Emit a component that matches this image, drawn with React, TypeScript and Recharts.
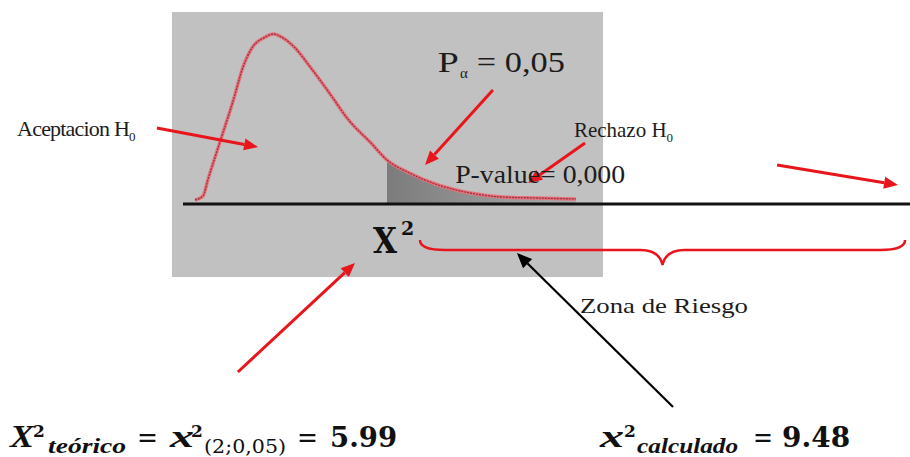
import React from 'react';
import {
  ComposedChart, Line, Area, XAxis, YAxis, ReferenceArea, ReferenceLine, ReferenceDot,
} from 'recharts';

// chi-square curve (x = chi² value, y = density)
const chiX = [0, 0.25, 0.4, 0.8, 1.2, 1.5, 1.8, 2.2, 2.45, 2.7, 3.1, 3.6, 4.2, 4.8, 5.5, 6.0, 6.7, 7.6, 8.6, 9.6, 10.7, 11.9];
const density = [0.004, 0.008, 0.024, 0.064, 0.104, 0.137, 0.157, 0.167, 0.170, 0.167, 0.157, 0.137, 0.111, 0.084, 0.061, 0.044, 0.031, 0.019, 0.011, 0.007, 0.006, 0.005];
const criticalValue = 6.0;

const xDomain = [-6.094, 22.344];
const yDomain = [-0.253, 0.204];

const rows = chiX.map((x, i) => ({
  x,
  y: density[i],
  tail: x >= criticalValue ? density[i] : null,
}));

const RED = '#e8161c';
const serif = '"Liberation Serif", "Times New Roman", serif';
const math = '"DejaVu Serif", serif';
const ink = '#1c1c1c';

const arrowShape = (color: string, width: number, head = 14, half = 6) => (p: any) => {
  const { x1, y1, x2, y2 } = p;
  const len = Math.hypot(x2 - x1, y2 - y1) || 1;
  const ux = (x2 - x1) / len;
  const uy = (y2 - y1) / len;
  const bx = x2 - ux * head;
  const by = y2 - uy * head;
  return (
    <g>
      <line x1={x1} y1={y1} x2={bx} y2={by} stroke={color} strokeWidth={width} />
      <polygon
        points={`${x2},${y2} ${bx - uy * half},${by + ux * half} ${bx + uy * half},${by - ux * half}`}
        fill={color}
      />
    </g>
  );
};

const braceShape = (p: any) => {
  const { x1, y1, x2 } = p;
  const y = y1;
  const mid = (x1 + x2) / 2;
  const d = `M${x1},${y - 10} C${x1},${y - 3} ${x1 + 8},${y} ${x1 + 25},${y} L${mid - 22},${y} C${mid - 8},${y} ${mid - 2},${y + 6} ${mid},${y + 15} C${mid + 2},${y + 6} ${mid + 8},${y} ${mid + 22},${y} L${x2 - 25},${y} C${x2 - 8},${y} ${x2},${y - 3} ${x2},${y - 10}`;
  return <path d={d} fill="none" stroke={RED} strokeWidth={2.5} />;
};

// arrows: [from, to] in chart units
const redArrows = [
  [[-1.19, 0.076], [1.97, 0.057]],
  [[9.31, 0.114], [7.19, 0.039]],
  [[12.19, 0.061], [10.41, 0.021]],
  [[18.19, 0.039], [21.97, 0.019]],
  [[1.34, -0.168], [5.0, -0.059]],
];
const blackArrow = [[14.94, -0.203], [10.06, -0.049]];

export default function App() {
  return (
    <div style={{ position: 'absolute', left: 0, top: 0, width: 910, height: 457, background: '#fff' }}>
      <ComposedChart width={910} height={457} data={rows} margin={{ top: 0, right: 0, bottom: 0, left: 0 }}>
        <defs>
          <linearGradient id="tailShade" x1="0" y1="0" x2="1" y2="0">
            <stop offset="0%" stopColor="#7c7c7c" />
            <stop offset="100%" stopColor="#ababab" />
          </linearGradient>
        </defs>
        <XAxis type="number" dataKey="x" domain={xDomain} allowDataOverflow hide />
        <YAxis type="number" domain={yDomain} allowDataOverflow hide />

        <ReferenceArea x1={-0.72} x2={12.75} y1={-0.073} y2={0.192} fill="#c1c1c1" fillOpacity={1} stroke="none" ifOverflow="visible" />

        <Area dataKey="tail" type="monotone" fill="url(#tailShade)" fillOpacity={1} stroke="none" activeDot={false} isAnimationActive={false} />
        <Line dataKey="y" type="monotone" stroke="#e8707a" strokeWidth={3.5} dot={false} activeDot={false} isAnimationActive={false} />
        <Line dataKey="y" type="monotone" stroke="#963542" strokeWidth={1.3} strokeDasharray="2 1" dot={false} activeDot={false} isAnimationActive={false} />

        <ReferenceLine segment={[{ x: -0.375, y: 0 }, { x: 22.344, y: 0 }]} stroke="#111" strokeWidth={3} ifOverflow="visible" />

        {redArrows.map((a, i) => (
          <ReferenceLine
            key={`ra${i}`}
            segment={[{ x: a[0][0], y: a[0][1] }, { x: a[1][0], y: a[1][1] }]}
            ifOverflow="visible"
            shape={arrowShape(RED, 3)}
          />
        ))}
        <ReferenceLine
          segment={[{ x: blackArrow[0][0], y: blackArrow[0][1] }, { x: blackArrow[1][0], y: blackArrow[1][1] }]}
          ifOverflow="visible"
          shape={arrowShape('#000', 2.2, 15, 6.5)}
        />
        <ReferenceLine segment={[{ x: 7.03, y: -0.046 }, { x: 22.19, y: -0.046 }]} ifOverflow="visible" shape={braceShape} />

        <ReferenceDot x={-5.56} y={0.068} ifOverflow="visible" shape={(p: any) => (
          <text x={p.cx} y={p.cy} fontFamily={serif} fontSize={22} letterSpacing={-0.8} fill={ink}>
            Aceptacion H<tspan fontSize={13} dy={5}>0</tspan>
          </text>
        )} />
        <ReferenceDot x={7.59} y={0.132} ifOverflow="visible" shape={(p: any) => (
          <g fontFamily={serif} fill={ink}>
            <text x={p.cx} y={p.cy} fontSize={29} textLength={21} lengthAdjust="spacingAndGlyphs">P</text>
            <text x={p.cx + 22} y={p.cy + 6} fontSize={15}>α</text>
            <text x={p.cx + 39} y={p.cy} fontSize={29} textLength={88} lengthAdjust="spacingAndGlyphs">= 0,05</text>
          </g>
        )} />
        <ReferenceDot x={11.84} y={0.067} ifOverflow="visible" shape={(p: any) => (
          <text x={p.cx} y={p.cy} fontFamily={serif} fontSize={21} fill={ink}>
            Rechazo H<tspan fontSize={13} dy={5}>0</tspan>
          </text>
        )} />
        <ReferenceDot x={8.13} y={0.021} ifOverflow="visible" shape={(p: any) => (
          <text x={p.cx} y={p.cy} fontFamily={serif} fontSize={25} fill={ink} textLength={170} lengthAdjust="spacingAndGlyphs">
            P-value= 0,000
          </text>
        )} />
        <ReferenceDot x={5.56} y={-0.049} ifOverflow="visible" shape={(p: any) => (
          <g fontFamily={math} fontWeight="bold" fill="#111">
            <text x={p.cx} y={p.cy} fontSize={35} textLength={24} lengthAdjust="spacingAndGlyphs">X</text>
            <text x={p.cx + 28} y={p.cy - 18} fontSize={19}>2</text>
          </g>
        )} />
        <ReferenceDot x={12.03} y={-0.109} ifOverflow="visible" shape={(p: any) => (
          <text x={p.cx} y={p.cy} fontFamily={serif} fontSize={22} fill={ink} textLength={168} lengthAdjust="spacingAndGlyphs">
            Zona de Riesgo
          </text>
        )} />

        <ReferenceDot x={-5.78} y={-0.243} ifOverflow="visible" shape={(p: any) => (
          <g fill="#111">
            <text x={p.cx} y={p.cy} fontFamily={serif} fontSize={31} fontWeight="bold" fontStyle="italic" textLength={24} lengthAdjust="spacingAndGlyphs">X</text>
            <text x={p.cx + 23} y={p.cy - 10} fontFamily={math} fontSize={17} fontWeight="bold">2</text>
            <text x={p.cx + 38} y={p.cy + 6} fontFamily={serif} fontSize={22} fontWeight="bold" fontStyle="italic" textLength={78} lengthAdjust="spacingAndGlyphs">teórico</text>
            <text x={p.cx + 127} y={p.cy} fontFamily={math} fontSize={28} textLength={21} lengthAdjust="spacingAndGlyphs">=</text>
            <text x={p.cx + 160} y={p.cy} fontFamily={serif} fontSize={31} fontWeight="bold" fontStyle="italic" textLength={24} lengthAdjust="spacingAndGlyphs">x</text>
            <text x={p.cx + 181} y={p.cy - 10} fontFamily={math} fontSize={17} fontWeight="bold">2</text>
            <text x={p.cx + 194} y={p.cy + 6} fontFamily={math} fontSize={18} textLength={82} lengthAdjust="spacingAndGlyphs">(2;0,05)</text>
            <text x={p.cx + 287} y={p.cy} fontFamily={math} fontSize={28} textLength={21} lengthAdjust="spacingAndGlyphs">=</text>
            <text x={p.cx + 320} y={p.cy} fontFamily={math} fontSize={28} fontWeight="bold" textLength={67} lengthAdjust="spacingAndGlyphs">5.99</text>
          </g>
        )} />
        <ReferenceDot x={12.66} y={-0.243} ifOverflow="visible" shape={(p: any) => (
          <g fill="#111">
            <text x={p.cx} y={p.cy} fontFamily={serif} fontSize={31} fontWeight="bold" fontStyle="italic" textLength={24} lengthAdjust="spacingAndGlyphs">x</text>
            <text x={p.cx + 24} y={p.cy - 10} fontFamily={math} fontSize={17} fontWeight="bold">2</text>
            <text x={p.cx + 37} y={p.cy + 6} fontFamily={serif} fontSize={21} fontWeight="bold" fontStyle="italic" textLength={101} lengthAdjust="spacingAndGlyphs">calculado</text>
            <text x={p.cx + 153} y={p.cy} fontFamily={math} fontSize={28} textLength={20} lengthAdjust="spacingAndGlyphs">=</text>
            <text x={p.cx + 182} y={p.cy} fontFamily={math} fontSize={28} fontWeight="bold" textLength={68} lengthAdjust="spacingAndGlyphs">9.48</text>
          </g>
        )} />
      </ComposedChart>
    </div>
  );
}
